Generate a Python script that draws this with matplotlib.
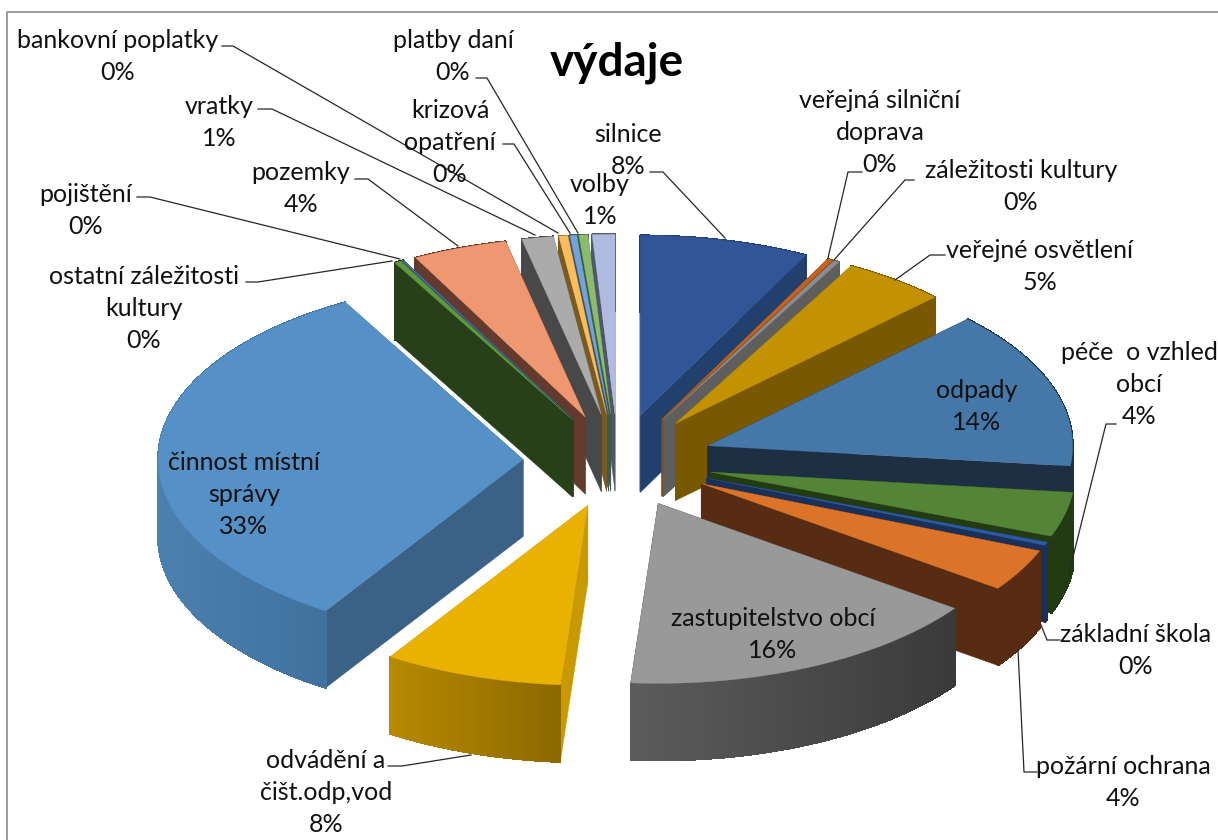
import numpy as np
import matplotlib
matplotlib.use("Agg")
import matplotlib.pyplot as plt
from matplotlib.colors import to_rgb

plt.rcParams['font.family'] = ['Lato', 'DejaVu Sans']

# slices clockwise from 12 o'clock
names = ["silnice", "veřejná silniční\ndoprava", "záležitosti kultury", "veřejné osvětlení",
         "odpady", "péče  o vzhled\nobcí", "základní škola", "požární ochrana",
         "zastupitelstvo obcí", "odvádění a\nčišt.odp,vod", "činnost místní\nsprávy",
         "ostatní záležitosti\nkultury", "pojištění", "pozemky", "vratky",
         "bankovní poplatky", "krizová\nopatření", "platby daní", "volby"]
values = [7.5, 0.25, 0.25, 4.6, 14.2, 4.0, 0.3, 3.8, 16.3, 7.9, 32.8,
          0.3, 0.1, 4.2, 1.4, 0.4, 0.3, 0.4, 1.0]
percents = [8, 0, 0, 5, 14, 4, 0, 4, 16, 8, 33, 0, 0, 4, 1, 0, 0, 0, 1]

top_colors = ["#315597", "#C5621E", "#8C8C8C", "#C39200", "#4578A8", "#548435", "#2C5AA0",
              "#DB7329", "#999999", "#EAB200", "#5590C7", "#5E9A3A", "#4A6AA8", "#EE9770",
              "#ABABAB", "#F9BE5A", "#74A3DA", "#8BBB70", "#AFBCDF"]
cut_colors = ["#22406E", "#8A4515", "#5E5E5E", "#785900", "#1D3043", "#233B13", "#1A3058",
              "#582C12", "#3A3A3A", "#C99900", "#3C6186", "#27401A", "#2A3A60", "#633A2B",
              "#484848", "#7A5A20", "#3A5570", "#3F5C30", "#50566A"]
wall_left = ["#22406E", "#8A4515", "#5E5E5E", "#785900", "#1D3043", "#233B13", "#1A3058",
             "#582C12", "#5C5C5C", "#B88A00", "#4C80AE", "#27401A", "#2A3A60", "#633A2B",
             "#484848", "#7A5A20", "#3A5570", "#3F5C30", "#50566A"]
wall_right = ["#22406E", "#8A4515", "#5E5E5E", "#785900", "#1D3043", "#233B13", "#1A3058",
              "#582C12", "#3A3A3A", "#8C6900", "#3F709C", "#27401A", "#2A3A60", "#633A2B",
              "#484848", "#7A5A20", "#3A5570", "#3F5C30", "#50566A"]

# label layout in picture pixels: centre x and the y of the first line
label_x = [628, 880, 1021, 1040, 977, 1139, 1136, 1123, 773, 326, 244,
           144, 86, 301, 219, 118, 450, 453, 600]
label_y = [134, 100, 170, 250, 390, 353, 634, 767, 618, 760, 462,
           276, 194, 173, 106, 41, 110, 40, 184]

leaders = [
    [(650, 172), (663, 172), (725, 238)],
    [(862, 172), (848, 172), (828, 258)],
    [(914, 180), (905, 180), (834, 260)],
    [(945, 255), (930, 255), (895, 280)],
    [(1116, 424), (1106, 424), (1069, 573)],
    [(1060, 640), (1047, 640), (1041, 625)],
    [(1037, 772), (1024, 772), (1018, 650)],
    [(388, 766), (402, 766), (471, 755)],
    [(246, 282), (258, 282), (392, 261)],
    [(137, 197), (150, 197), (400, 259)],
    [(355, 179), (368, 179), (458, 246)],
    [(258, 109), (272, 109), (535, 235)],
    [(222, 46), (233, 46), (558, 233)],
    [(503, 144), (514, 144), (570, 233)],
    [(476, 78), (487, 78), (578, 233)],
]

CX, CY = 618, 461
RX, RY = 365, 180
EXPLODE = 0.26
DEPTH = 77
LINE_H = 32


def project(u, v, drop=0.0):
    return CX + RX * u, CY - RY * v + drop


def mix(a, b, t):
    a, b = np.array(to_rgb(a)), np.array(to_rgb(b))
    return tuple(a + (b - a) * t)


def draw_slice(ax, a0, a1, top, cut, left, right):
    mid = (a0 + a1) / 2
    ou, ov = EXPLODE * np.sin(mid), EXPLODE * np.cos(mid)
    ang = np.linspace(a0, a1, max(int((a1 - a0) * 90), 2) + 1)
    xs, ys = project(ou + np.sin(ang), ov + np.cos(ang))
    ax0, ay0 = project(ou, ov)

    # side walls, the ones higher up the picture go first
    walls = []
    for xe, ye in ((xs[0], ys[0]), (xs[-1], ys[-1])):
        walls.append(((ay0 + ye) / 2, [ax0, xe, xe, ax0], [ay0, ye, ye + DEPTH, ay0 + DEPTH], cut, True))
    xmin, xmax = xs.min(), xs.max()
    for i in range(len(xs) - 1):
        t = ((xs[i] + xs[i + 1]) / 2 - xmin) / max(xmax - xmin, 1)
        walls.append(((ys[i] + ys[i + 1]) / 2,
                      [xs[i], xs[i + 1], xs[i + 1], xs[i]],
                      [ys[i], ys[i + 1], ys[i + 1] + DEPTH, ys[i] + DEPTH],
                      mix(left, right, t), False))
    for _, wx, wy, c, smooth in sorted(walls, key=lambda w: w[0]):
        # no antialiasing on the wall strips, it leaves seams between them
        ax.fill(wx, wy, color=c, lw=0.3 if smooth else 0.8, antialiased=smooth)

    ax.fill(np.r_[ax0, xs], np.r_[ay0, ys], color=top, lw=0.2)


def main():
    fig = plt.figure(figsize=(12.18, 8.4), dpi=100)
    ax = fig.add_axes([0, 0, 1, 1])
    ax.set_xlim(0, 1218)
    ax.set_ylim(840, 0)
    ax.axis("off")

    # chart area border
    ax.plot([6.5, 6.5, 1218], [840, 11.5, 11.5], color="#8C8C8C", lw=1.2)

    shares = np.array(values) / sum(values) * 2 * np.pi
    ends = np.cumsum(shares)
    starts = ends - shares

    # back slices first
    mids = (starts + ends) / 2
    order = np.argsort(-np.cos(mids))
    for i in order:
        draw_slice(ax, starts[i], ends[i], top_colors[i], cut_colors[i], wall_left[i], wall_right[i])

    for pts in leaders:
        px, py = zip(*pts)
        ax.plot(px, py, color="#262626", lw=0.9)

    for name, pct, x, y in zip(names, percents, label_x, label_y):
        lines = name.split("\n") + [f"{pct}%"]
        for k, line in enumerate(lines):
            ax.text(x, y + k * LINE_H, line, ha="center", va="center", fontsize=18, color="#111111")

    ax.text(617, 63, "výdaje", ha="center", va="center", fontsize=33, fontweight="bold", color="black")

    fig.savefig("out.png", dpi=100)


main()
